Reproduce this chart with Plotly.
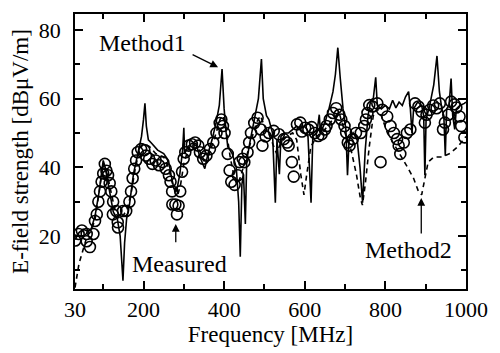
import plotly.graph_objects as go

# Method1 (solid line)
m1_freq = [30, 40, 50, 60, 70, 80, 90, 100, 105, 115, 125, 135, 142, 149, 153, 158, 165, 175, 185, 195,
           200, 203.5, 207, 212, 220, 235, 250, 262, 268, 275, 282, 290, 297, 300, 302, 310, 320, 330, 340, 352,
           360, 370, 380, 388, 394.8, 400, 405, 409, 420, 430, 436, 440, 444, 448, 452.6, 456, 465, 475, 485, 492.5,
           497, 505, 511, 520, 527, 531, 537, 541, 550, 560, 570, 580, 590, 600, 608, 615.6, 620, 630, 636, 639,
           650, 660, 670, 676, 682, 688, 695, 702, 706, 710, 720, 730, 737, 743.4, 750, 757, 763.7, 770, 776, 780,
           790, 800, 810, 818, 826, 834, 842, 850, 857.6, 862, 866, 870, 880, 890, 895, 898, 901, 910, 920, 928,
           934, 940, 945, 948.6, 952, 958, 963, 967, 972, 976, 985, 996, 1000]
m1_val = [19, 21, 22, 21.5, 22, 26, 33, 42, 40, 33, 27, 25, 20, 7, 18, 25, 29, 38, 44, 49,
          54, 58.6, 52, 48, 47, 45, 44, 42, 38, 34, 33, 38, 45, 51.5, 44, 46, 47, 47, 43, 39.6,
          44, 48, 53, 58, 68.6, 57, 50, 46, 44, 40, 30, 14, 35, 38, 23.5, 42, 48, 54, 60, 71.5,
          60, 55, 53.9, 50, 29.7, 48, 38, 49, 50, 50, 51, 52, 51, 50, 49, 29.7, 49, 50, 55.3, 50,
          53, 57, 62, 67, 74.8, 66, 57, 51, 37.7, 48, 50, 48, 40, 29.7, 45, 55, 59.6, 60, 66.2, 58,
          57, 58, 57, 59.5, 57.3, 59, 58, 60.5, 62, 57, 50, 57, 59, 58, 55, 37.7, 54, 58, 64, 72.4,
          62, 57, 55, 43.4, 57, 58, 65.8, 55, 51, 57, 58, 58.6, 59]

# Method2 (dashed line)
m2_freq = [30, 35, 40, 50, 60, 70, 80, 90, 100, 110, 120, 130, 140, 150, 160, 170, 180, 190, 200, 215,
           230, 250, 262, 270, 278, 285, 292, 300, 310, 320, 335, 350, 360, 375, 390, 398, 405, 415, 425, 432,
           440, 450, 465, 480, 490, 500, 510, 520, 530, 540, 555, 570, 580, 590, 598, 605, 615, 630, 650, 670,
           685, 700, 715, 728, 738, 743, 750, 760, 770, 780, 790, 805, 820, 837, 855, 870, 882, 890, 898, 906,
           920, 940, 960, 980, 1000]
m2_val = [5, 9, 12, 16, 20, 21.5, 25, 33, 41, 38, 32, 27, 25, 26, 28, 33, 40, 45, 47, 46,
          44, 43, 40, 36, 33, 32, 35, 41, 45, 47, 46, 42, 43, 48, 54, 55, 51, 43, 37, 35,
          37, 41, 47, 53, 55, 52, 50, 47, 44, 47, 49, 50, 48, 38, 32, 38, 46, 49, 51, 54,
          56, 50, 45, 38, 31, 29, 35, 46, 55, 57, 55, 50, 47, 44, 40, 36.8, 33, 32, 37, 41.5,
          43, 43, 44, 46, 49]

# Measured (open circles)
meas_freq = [30.8, 39, 47, 59, 59, 67, 75.6, 79.6, 84, 88, 92, 96, 100, 104, 108, 112, 116, 120, 124.6, 124,
             132.6, 136, 136.7, 149, 157, 165, 169, 173, 177, 181.5, 185.6, 194, 202, 206, 214, 222, 230, 238.5, 247, 255,
             263, 267, 271, 271.5, 279, 283, 287, 291, 295.6, 299.6, 303.6, 312, 320, 328, 336, 340, 348, 356, 364.7, 373,
             381, 389, 393, 397, 401, 409, 413.6, 417.7, 426, 434, 438, 446, 450, 458, 462, 466.6, 474.7, 483, 491, 495,
             503, 511, 523, 535.8, 548, 556, 560, 568, 572.6, 580.6, 589, 593, 601, 609, 617, 625, 633.5, 641.7, 650, 654,
             662, 670, 678, 686, 690.6, 698.6, 702.6, 706.8, 711, 719, 727, 739, 747.6, 751.7, 755.6, 760, 768, 780, 788, 792,
             804.5, 812.7, 821, 829, 833, 837, 845.6, 853.4, 862, 873.6, 882, 890, 898, 902, 910, 918.6, 927, 935, 943, 947.6,
             956, 963, 971.6, 976, 984, 988, 996]
meas_val = [18.7, 20.6, 21.6, 20.6, 18.5, 16.8, 20.6, 24.4, 26.3, 30, 33, 35.8, 38.2, 41, 39, 37.7, 35.4, 33, 30, 26.3,
            27.3, 24, 22.5, 27.3, 27.3, 30, 33, 36.8, 39.6, 42, 44.4, 45.3, 45, 43.4, 42.5, 41, 42, 40.6, 41.5, 39.6,
            37.7, 35.8, 33, 29.2, 29.2, 26.3, 28.8, 33, 38.7, 42.5, 44.4, 46.3, 46.7, 47.2, 46.3, 44.4, 42.5, 43.4, 45.3, 47.2,
            50, 52.9, 53.9, 52, 50, 43.9, 39.1, 35.8, 34.9, 37.7, 41.5, 42.5, 41.5, 44.4, 47.2, 50, 52.9, 54.4, 51, 46.3,
            49, 50, 50.6, 49.6, 48.2, 47.2, 46.3, 41.5, 37.3, 52.5, 53, 50.4, 51.5, 51, 51.7, 50, 49.1, 49.6, 51, 52,
            53.9, 55.8, 57.2, 55.3, 53.9, 52, 50.1, 47.2, 46.3, 48.2, 50, 50, 52, 53.9, 55.8, 58.1, 57.7, 58.6, 41.5, 56.7,
            54.8, 52, 50, 48.2, 46.3, 43.9, 47.2, 50, 51, 58.6, 57.7, 56.2, 53, 55.3, 56.7, 58, 57.2, 58.6, 51, 53,
            55.3, 59.1, 58.3, 57.4, 54.8, 52, 48.7]

x_tickvals = [30, 200, 400, 600, 800, 1000]
x_minor = [100, 300, 500, 700, 900]
y_tickvals = [20, 40, 60, 80]
y_minor = [10, 30, 50, 70]

FONT = "Liberation Serif"

fig = go.Figure()
fig.add_trace(go.Scatter(x=m2_freq, y=m2_val, mode="lines", name="Method2",
                         line=dict(color="black", width=1.6, dash="5px,4px")))
fig.add_trace(go.Scatter(x=m1_freq, y=m1_val, mode="lines", name="Method1",
                         line=dict(color="black", width=1.6)))
fig.add_trace(go.Scatter(x=meas_freq, y=meas_val, mode="markers", name="Measured",
                         marker=dict(symbol="circle-open", size=11, color="black",
                                     line=dict(width=1.6, color="black"))))

axis_common = dict(showline=True, linecolor="black", linewidth=1.6, mirror="allticks",
                   ticks="inside", ticklen=8, tickwidth=1.6, tickcolor="black",
                   showgrid=False, zeroline=False,
                   tickfont=dict(family=FONT, size=22, color="black"))

fig.update_xaxes(range=[30, 1000], tickmode="array", tickvals=x_tickvals,
                 ticktext=[str(v) for v in x_tickvals],
                 minor=dict(tickmode="array", tickvals=x_minor, ticks="inside", ticklen=5,
                            tickwidth=1.5, tickcolor="black"),
                 title=dict(text="Frequency [MHz]", font=dict(family=FONT, size=23, color="black"),
                            standoff=3),
                 **axis_common)
fig.update_yaxes(range=[4.6, 84.6], tickmode="array", tickvals=y_tickvals,
                 ticktext=[str(v) for v in y_tickvals],
                 minor=dict(tickmode="array", tickvals=y_minor, ticks="inside", ticklen=5,
                            tickwidth=1.5, tickcolor="black"),
                 title=dict(text="E-field strength [dBμV/m]", font=dict(family=FONT, size=23, color="black"),
                            standoff=4),
                 ticklabelstandoff=8,
                 **axis_common)

ann_font = dict(family=FONT, size=24, color="black")
fig.add_annotation(x=198.6, y=76.1, xref="x", yref="y", text="Method1", showarrow=False, font=ann_font)
fig.add_annotation(x=289, y=11.8, xref="x", yref="y", text="Measured", showarrow=False, font=ann_font)
fig.add_annotation(x=858, y=16, xref="x", yref="y", text="Method2", showarrow=False, font=ann_font)

arrow_style = dict(showarrow=True, arrowhead=2, arrowsize=1.2, arrowwidth=1.3, arrowcolor="black",
                   text="", xref="x", yref="y", axref="x", ayref="y")
fig.add_annotation(x=385, y=69.1, ax=318, ay=73, **arrow_style)
fig.add_annotation(x=280, y=23.5, ax=280, ay=17.8, **arrow_style)
fig.add_annotation(x=889, y=31.1, ax=889, ay=20.3, **arrow_style)

fig.update_layout(width=500, height=353, margin=dict(l=75, r=28, t=12, b=60),
                  paper_bgcolor="white", plot_bgcolor="white", showlegend=False,
                  font=dict(family=FONT, color="black"))

fig.write_html("out.html")
